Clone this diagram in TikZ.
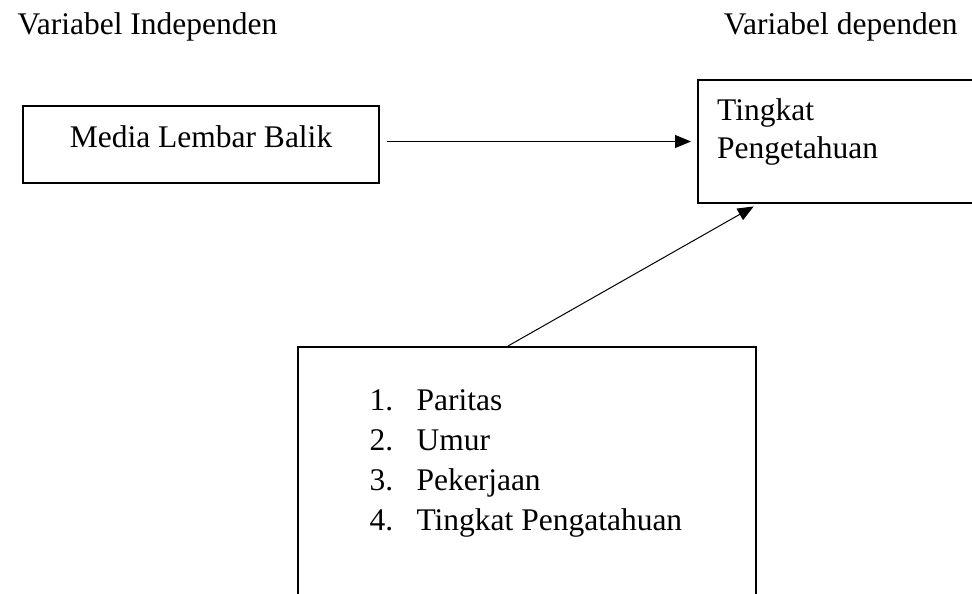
\documentclass[tikz,border=0pt]{standalone}
\usepackage{fontspec}
\setmainfont{Liberation Serif}
\usetikzlibrary{arrows.meta}
\begin{document}
\begin{tikzpicture}[x=1pt,y=-1pt, font=\fontsize{31.5}{38}\selectfont,
    box/.style={draw,line width=2pt,inner sep=0pt},
    arr/.style={line width=1pt,-{Triangle[length=16pt,width=13pt]}}]
\useasboundingbox (0,0) rectangle (972,594);

\node[anchor=base west] (indep) at (14,35) {Variabel Independen};
\node[anchor=base east] (dep) at (961,35) {Variabel dependen};

\node[box,anchor=north west,minimum width=356pt,minimum height=77pt,
      text height=21.5pt,text depth=16.5pt] (media) at (22,105) {Media Lembar Balik};
\node[box,anchor=north west,minimum width=300pt,minimum height=123pt] (peng) at (697,79) {};
\node[anchor=north west,inner sep=0pt,align=left] (pengtxt) at ([shift={(20,19.5)}]peng.north west) {Tingkat\\Pengetahuan};

\node[box,anchor=north west,minimum width=458pt,minimum height=300pt] (faktor) at (297,346) {};
\foreach \t [count=\i] in {Paritas, Umur, Pekerjaan, Tingkat Pengatahuan}
{
  \node[anchor=base west] (no\i) at (366,{370+40*\i}) {\i.};
  \node[anchor=base west] (item\i) at (413,{370+40*\i}) {\t};
}

\draw[arr,shorten >=6pt] ([xshift=7pt]media.east |- peng.west) -- (peng.west);
\draw[arr,shorten >=5pt] ([shift={(211,0)}]faktor.north west) -- ([shift={(61,0)}]peng.south west);
\end{tikzpicture}
\end{document}
